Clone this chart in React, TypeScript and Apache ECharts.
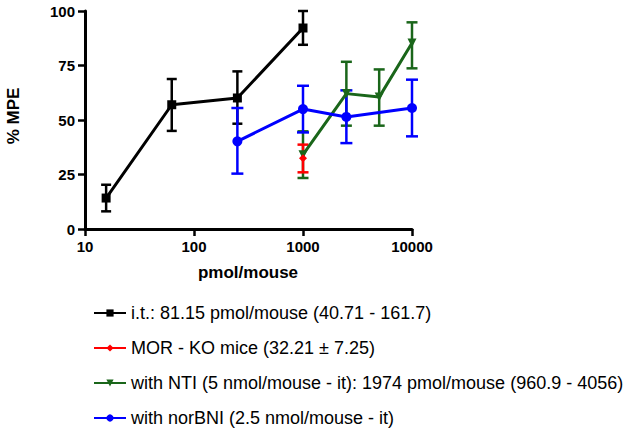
import React, { useEffect, useRef } from "react";
import * as echarts from "echarts";

const itDose = [15.625, 62.5, 250, 1000];
const itMean = [14.2, 57, 60.1, 92.2];
const itLow = [8.1, 45, 48.3, 84.5];
const itHigh = [20.3, 68.8, 72.3, 100];

const koDose = [1000];
const koMean = [32.4];
const koLow = [26];
const koHigh = [38.7];

const ntiDose = [1000, 2500, 5000, 10000];
const ntiMean = [34.1, 62.1, 60.5, 85.3];
const ntiLow = [23.4, 47.4, 47.4, 73.7];
const ntiHigh = [44.8, 76.7, 73.2, 94.8];

const bniDose = [250, 1000, 2500, 10000];
const bniMean = [40.2, 55, 51.4, 55.5];
const bniLow = [25.4, 44.3, 39.4, 42.5];
const bniHigh = [55.5, 65.7, 63.6, 68.5];

const names = [
  "i.t.: 81.15 pmol/mouse (40.71 - 161.7)",
  "MOR - KO mice (32.21 \u00b1 7.25)",
  "with NTI (5 nmol/mouse - it): 1974 pmol/mouse (960.9 - 4056)",
  "with norBNI (2.5 nmol/mouse - it)",
];

const FONT = "Liberation Sans, Arial, sans-serif";

function errSeries(dose: number[], low: number[], high: number[], color: string, capW: number) {
  return {
    type: "custom",
    silent: true,
    data: dose.map((d, i) => [d, low[i], high[i]]),
    encode: { x: 0, y: [1, 2] },
    renderItem: (params: any, api: any) => {
      const x = api.value(0);
      const p1 = api.coord([x, api.value(1)]);
      const p2 = api.coord([x, api.value(2)]);
      const w = capW / 2;
      const st = { stroke: color, lineWidth: 2.5 };
      return {
        type: "group",
        children: [
          { type: "line", shape: { x1: p1[0], y1: p1[1], x2: p2[0], y2: p2[1] }, style: st },
          { type: "line", shape: { x1: p1[0] - w, y1: p1[1], x2: p1[0] + w, y2: p1[1] }, style: st },
          { type: "line", shape: { x1: p2[0] - w, y1: p2[1], x2: p2[0] + w, y2: p2[1] }, style: st },
        ],
      };
    },
  };
}

function lineSeries(name: string, dose: number[], mean: number[], color: string, symbol: string, size: number, rotate = 0) {
  return {
    name,
    type: "line",
    data: dose.map((d, i) => [d, mean[i]]),
    symbol,
    symbolSize: size,
    symbolRotate: rotate,
    showAllSymbol: true,
    lineStyle: { color, width: 3 },
    itemStyle: { color },
  };
}

export default function App() {
  const ref = useRef<HTMLDivElement>(null);
  useEffect(() => {
    if (!ref.current) return;
    const chart = echarts.init(ref.current, null, { renderer: "svg" });
    const black = "#000000";
    const red = "#ff0000";
    const green = "#1a661a";
    const blue = "#0000ff";
    chart.setOption({
      animation: false,
      backgroundColor: "#ffffff",
      textStyle: { fontFamily: FONT },
      grid: { left: 85, top: 11, right: 212, bottom: 203 },
      xAxis: {
        type: "log",
        logBase: 10,
        min: 10,
        max: 10000,
        axisLine: { lineStyle: { color: "#000", width: 3 } },
        axisTick: { length: 7, lineStyle: { color: "#000", width: 2.5 } },
        minorTick: { show: false },
        splitLine: { show: false },
        axisLabel: {
          color: "#000",
          fontSize: 15,
          fontWeight: "bold",
          fontFamily: FONT,
          margin: 10,
          formatter: (v: number) => String(Math.round(v)),
        },
      },
      yAxis: {
        type: "value",
        min: 0,
        max: 100,
        interval: 25,
        axisLine: { show: true, lineStyle: { color: "#000", width: 3 } },
        axisTick: { show: true, length: 7, lineStyle: { color: "#000", width: 2.5 } },
        splitLine: { show: false },
        axisLabel: { color: "#000", fontSize: 15, fontWeight: "bold", fontFamily: FONT, margin: 10 },
      },
      legend: {
        orient: "vertical",
        left: 93,
        top: 304,
        itemWidth: 32,
        itemHeight: 9,
        itemGap: 17,
        padding: 0,
        data: names,
        textStyle: { color: "#000", fontSize: 18, fontFamily: FONT },
      },
      graphic: [
        {
          type: "text",
          x: 13,
          y: 116,
          rotation: Math.PI / 2,
          style: { text: "% MPE", fontSize: 17, fontWeight: "bold", fontFamily: FONT, fill: "#000", align: "center", verticalAlign: "middle" },
        },
        {
          type: "text",
          x: 248,
          y: 272,
          style: { text: "pmol/mouse", fontSize: 17, fontWeight: "bold", fontFamily: FONT, fill: "#000", align: "center", verticalAlign: "middle" },
        },
      ],
      series: [
        errSeries(itDose, itLow, itHigh, black, 10),
        lineSeries(names[0], itDose, itMean, black, "rect", 9),
        errSeries(ntiDose, ntiLow, ntiHigh, green, 11),
        lineSeries(names[2], ntiDose, ntiMean, green, "triangle", 9, 180),
        errSeries(koDose, koLow, koHigh, red, 11),
        lineSeries(names[1], koDose, koMean, red, "diamond", 8),
        errSeries(bniDose, bniLow, bniHigh, blue, 12),
        lineSeries(names[3], bniDose, bniMean, blue, "circle", 10),
      ],
    });
    return () => chart.dispose();
  }, []);
  return <div ref={ref} style={{ position: "fixed", left: 0, top: 0, width: 624, height: 432 }} />;
}
